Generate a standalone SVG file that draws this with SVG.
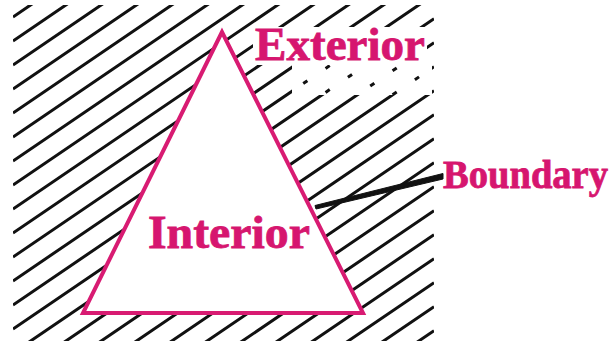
<svg xmlns="http://www.w3.org/2000/svg" width="616" height="341" viewBox="0 0 616 341">
  <style>
    .hatch { stroke: #111; stroke-width: 3; fill: none; }
    .dash { stroke: #111; stroke-width: 3; fill: none; stroke-dasharray: 5 22; }
    .lbl { font-family: "Liberation Serif", "Times New Roman", serif; font-weight: bold; fill: #d6166f; stroke: #d6166f; stroke-width: 0.8; }
    .tri { fill: #fff; stroke: #d81b72; stroke-width: 4; stroke-linejoin: miter; }
    .lead { fill: #111; stroke: #111; stroke-width: 1; stroke-linejoin: round; }
  </style>
  <defs>
    <clipPath id="region"><rect x="13" y="5" width="421" height="336"/></clipPath>
    <clipPath id="faded"><rect x="292" y="65" width="140" height="30"/></clipPath>
    <path id="hl" d="M13,16.96L434,-269.32 M13,40.96L434,-245.32 M13,64.96L434,-221.32 M13,88.96L434,-197.32 M13,112.96L434,-173.32 M13,136.96L434,-149.32 M13,160.96L434,-125.32 M13,184.96L434,-101.32 M13,208.96L434,-77.32 M13,232.96L434,-53.32 M13,256.96L434,-29.32 M13,280.96L434,-5.32 M13,304.96L434,18.68 M13,328.96L434,42.68 M13,352.96L434,66.68 M13,376.96L434,90.68 M13,400.96L434,114.68 M13,424.96L434,138.68 M13,448.96L434,162.68 M13,472.96L434,186.68 M13,496.96L434,210.68 M13,520.96L434,234.68 M13,544.96L434,258.68 M13,568.96L434,282.68 M13,592.96L434,306.68 M13,616.96L434,330.68"/>
  </defs>
  <rect width="616" height="341" fill="#fff"/>
  <g id="exterior-region" clip-path="url(#region)">
    <use href="#hl" class="hatch"/>
    <rect x="292" y="65" width="140" height="30" fill="#fff"/>
    <g clip-path="url(#faded)">
      <use href="#hl" class="dash"/>
    </g>
  </g>
  <g id="triangle">
    <polygon class="tri" points="222,32 83,313 363,313"/>
  </g>
  <g id="exterior-label">
    <rect x="253" y="27" width="174" height="38" fill="#fff"/>
    <text class="lbl" x="255" y="60" font-size="46" textLength="170" lengthAdjust="spacingAndGlyphs">Exterior</text>
  </g>
  <g id="interior-label">
    <text class="lbl" x="148" y="248" font-size="47" textLength="162" lengthAdjust="spacingAndGlyphs">Interior</text>
  </g>
  <g id="connectors">
    <polygon class="lead" points="315,205.5 443,173.5 443,179 316,209"/>
  </g>
  <g id="boundary-label">
    <text class="lbl" x="443" y="188" font-size="39" textLength="165" lengthAdjust="spacingAndGlyphs">Boundary</text>
  </g>
</svg>
